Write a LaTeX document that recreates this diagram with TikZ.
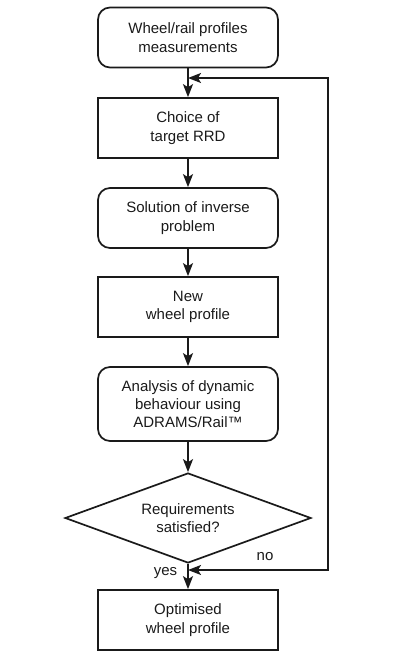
\documentclass[tikz,border=0pt]{standalone}
\usepackage{fontspec}
\setmainfont{Liberation Sans}
\usetikzlibrary{shapes.geometric,arrows.meta}
\definecolor{ink}{HTML}{1A1A1A}
\begin{document}
\begin{tikzpicture}[x=1pt,y=-1pt,
  font=\fontsize{15}{18.3}\selectfont, line width=1.7pt, draw=ink, text=ink,
  box/.style={draw=ink, minimum width=180pt, minimum height=60pt, inner sep=0pt, align=center},
  rbox/.style={box, rounded corners=12pt},
  dec/.style={draw=ink, diamond, shape aspect=2.7, minimum width=246pt, minimum height=90pt, inner sep=0pt, align=center},
  tip/.tip={Stealth[length=13pt,width=10pt,inset=3pt]},
  arr/.style={draw=ink, -tip}]
\useasboundingbox (0,0) rectangle (400,663);
\node[rbox] (a) at (188,37.5) {Wheel/rail profiles\\measurements};
\node[box] (b) at (188,128) {Choice of\\target RRD};
\node[rbox] (c) at (188,218) {Solution of inverse\\problem};
\node[box] (d) at (188,307) {New\\wheel profile};
\node[rbox, minimum height=74pt] (e) at (188,404) {Analysis of dynamic\\behaviour using\\ADRAMS/Rail™};
\node[dec] (f) at (188,518) {Requirements\\satisfied?};
\node[box] (g) at (188,620) {Optimised\\wheel profile};
\coordinate (m1) at (188,78);
\coordinate (m2) at (188,570);
\coordinate (r1) at (328,570);
\coordinate (r2) at (328,78);
\draw[arr] (a) -- (b);
\draw[arr] (b) -- (c);
\draw[arr] (c) -- (d);
\draw[arr] (d) -- (e);
\draw[arr] (e) -- (f);
\draw[arr] (f) -- (g);
\draw[draw=ink, tip-tip] (m2) -- (r1) -- (r2) -- (m1);
\node[anchor=east, inner sep=0pt] (yes) at (178,573) {yes};
\node[inner sep=0pt] (no) at (265,557) {no};
\end{tikzpicture}
\end{document}
